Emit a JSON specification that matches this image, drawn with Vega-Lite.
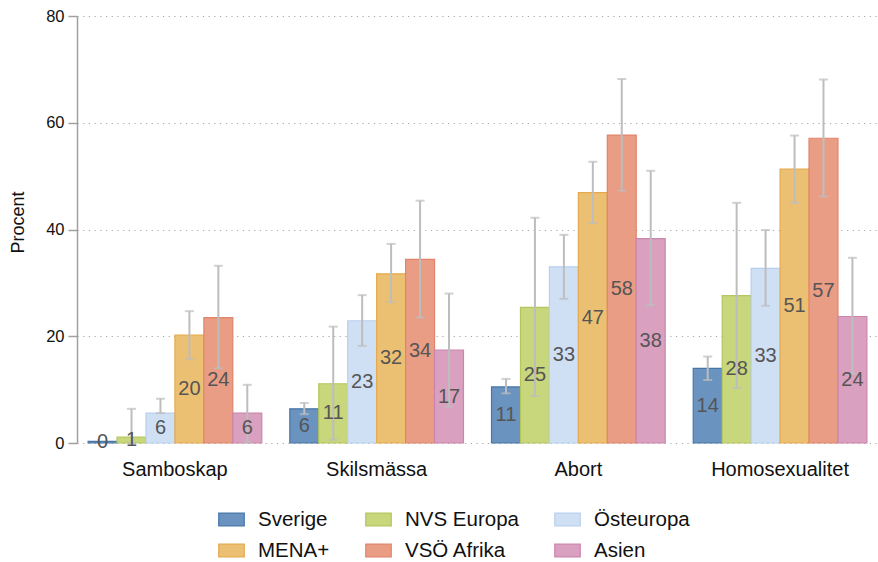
{
  "$schema": "https://vega.github.io/schema/vega-lite/v6.json",
  "autosize": "none",
  "width": 801,
  "height": 427,
  "padding": {"left": 77, "top": 16, "right": 0, "bottom": 119},
  "background": "white",
  "config": {
    "font": "Liberation Sans",
    "view": {"stroke": null},
    "axis": {"labelFont": "Liberation Sans", "titleFont": "Liberation Sans"},
    "axisY": {"titleFontSize": 18, "titleFontWeight": "normal", "titleColor": "#111111", "labelFontSize": 16.5},
    "legend": {"labelFont": "Liberation Sans"}
  },
  "data": {
    "values": [
      {"q": "Samboskap", "g": "Sverige", "v": 0.3, "lo": null, "hi": null},
      {"q": "Samboskap", "g": "NVS Europa", "v": 1.1, "lo": 0, "hi": 6.4},
      {"q": "Samboskap", "g": "Östeuropa", "v": 5.6, "lo": 5.6, "hi": 8.3},
      {"q": "Samboskap", "g": "MENA+", "v": 20.2, "lo": 15.7, "hi": 24.7},
      {"q": "Samboskap", "g": "VSÖ Afrika", "v": 23.5, "lo": 14.0, "hi": 33.2},
      {"q": "Samboskap", "g": "Asien", "v": 5.6, "lo": 0.2, "hi": 10.9},
      {"q": "Skilsmässa", "g": "Sverige", "v": 6.4, "lo": 5.4, "hi": 7.5},
      {"q": "Skilsmässa", "g": "NVS Europa", "v": 11.1, "lo": 0.6, "hi": 21.8},
      {"q": "Skilsmässa", "g": "Östeuropa", "v": 22.9, "lo": 18.2, "hi": 27.7},
      {"q": "Skilsmässa", "g": "MENA+", "v": 31.7, "lo": 26.4, "hi": 37.3},
      {"q": "Skilsmässa", "g": "VSÖ Afrika", "v": 34.4, "lo": 23.5, "hi": 45.4},
      {"q": "Skilsmässa", "g": "Asien", "v": 17.4, "lo": 6.8, "hi": 28.0},
      {"q": "Abort", "g": "Sverige", "v": 10.5, "lo": 9.3, "hi": 12.0},
      {"q": "Abort", "g": "NVS Europa", "v": 25.4, "lo": 8.8, "hi": 42.2},
      {"q": "Abort", "g": "Östeuropa", "v": 33.0, "lo": 27.0, "hi": 39.0},
      {"q": "Abort", "g": "MENA+", "v": 46.9, "lo": 41.2, "hi": 52.7},
      {"q": "Abort", "g": "VSÖ Afrika", "v": 57.7, "lo": 47.3, "hi": 68.2},
      {"q": "Abort", "g": "Asien", "v": 38.3, "lo": 25.8, "hi": 51.0},
      {"q": "Homosexualitet", "g": "Sverige", "v": 14.0, "lo": 11.8, "hi": 16.2},
      {"q": "Homosexualitet", "g": "NVS Europa", "v": 27.6, "lo": 10.3, "hi": 45.0},
      {"q": "Homosexualitet", "g": "Östeuropa", "v": 32.7, "lo": 25.7, "hi": 39.9},
      {"q": "Homosexualitet", "g": "MENA+", "v": 51.3, "lo": 45.0, "hi": 57.6},
      {"q": "Homosexualitet", "g": "VSÖ Afrika", "v": 57.1, "lo": 46.2, "hi": 68.1},
      {"q": "Homosexualitet", "g": "Asien", "v": 23.7, "lo": 12.9, "hi": 34.7}
    ]
  },
  "encoding": {
    "x": {
      "field": "q", "type": "nominal",
      "sort": ["Samboskap", "Skilsmässa", "Abort", "Homosexualitet"],
      "scale": {"paddingInner": 0.139, "paddingOuter": 0.055},
      "axis": {"title": null, "domain": false, "ticks": false, "labelAngle": 0, "labelFontSize": 20, "labelColor": "#111111", "labelPadding": 16}
    },
    "xOffset": {
      "field": "g", "type": "nominal",
      "sort": ["Sverige", "NVS Europa", "Östeuropa", "MENA+", "VSÖ Afrika", "Asien"],
      "scale": {"paddingInner": 0, "paddingOuter": 0}
    }
  },
  "layer": [
    {
      "mark": {"type": "bar", "strokeWidth": 1.2},
      "encoding": {
        "y": {
          "field": "v", "type": "quantitative",
          "scale": {"domain": [0, 80], "nice": false},
          "axis": {
            "title": "Procent", "titleFontSize": 18, "titleFontWeight": "normal", "titleColor": "#111111", "titlePadding": 18, "titleY": 206,
            "values": [0, 20, 40, 60, 80],
            "labelFontSize": 16.5, "labelColor": "#111111", "labelPadding": 4,
            "tickSize": 9, "tickColor": "#a0a0a0", "tickWidth": 1.5,
            "domainColor": "#a0a0a0", "domainWidth": 1.5,
            "grid": true, "gridColor": "#a8a8a8", "gridDash": [1.2, 4.5], "gridWidth": 1
          }
        },
        "fill": {
          "field": "g", "type": "nominal",
          "sort": ["Sverige", "NVS Europa", "Östeuropa", "MENA+", "VSÖ Afrika", "Asien"],
          "scale": {
            "domain": ["Sverige", "NVS Europa", "Östeuropa", "MENA+", "VSÖ Afrika", "Asien"],
            "range": ["#6a93bf", "#c8d67c", "#cfe0f5", "#ecc072", "#e99d85", "#d9a0bf"]
          },
          "legend": {
            "title": null, "orient": "none", "legendX": 141, "legendY": 490,
            "direction": "horizontal", "columns": 3, "columnPadding": 33, "rowPadding": 7,
            "labelFontSize": 20.5, "labelColor": "#111111", "labelOffset": 13,
            "symbolType": "M-1,-0.5H1V0.5H-1Z", "symbolSize": 650, "symbolStrokeWidth": 1.2
          }
        },
        "stroke": {
          "field": "g", "type": "nominal",
          "scale": {
            "domain": ["Sverige", "NVS Europa", "Östeuropa", "MENA+", "VSÖ Afrika", "Asien"],
            "range": ["#4776a8", "#b5c65e", "#b9cfef", "#e5aa4e", "#e2846b", "#cc86ad"]
          },
          "legend": null
        }
      }
    },
    {
      "mark": {"type": "rule", "color": "#bdbdbd", "strokeWidth": 2},
      "encoding": {
        "y": {"field": "lo", "type": "quantitative", "scale": {"domain": [0, 80], "nice": false}, "axis": null},
        "y2": {"field": "hi"}
      }
    },
    {
      "mark": {"type": "tick", "color": "#bdbdbd", "size": 9, "thickness": 2},
      "encoding": {
        "y": {"field": "lo", "type": "quantitative", "scale": {"domain": [0, 80], "nice": false}, "axis": null}
      }
    },
    {
      "mark": {"type": "tick", "color": "#bdbdbd", "size": 9, "thickness": 2},
      "encoding": {
        "y": {"field": "hi", "type": "quantitative", "scale": {"domain": [0, 80], "nice": false}, "axis": null}
      }
    },
    {
      "mark": {"type": "text", "fontSize": 20, "color": "#555555", "baseline": "middle", "align": "center"},
      "encoding": {
        "y": {"field": "v", "type": "quantitative", "scale": {"domain": [0, 160], "nice": false}, "axis": null},
        "text": {"field": "v", "type": "quantitative", "format": ".0f"}
      }
    }
  ],
  "resolve": {"scale": {"y": "independent"}}
}
